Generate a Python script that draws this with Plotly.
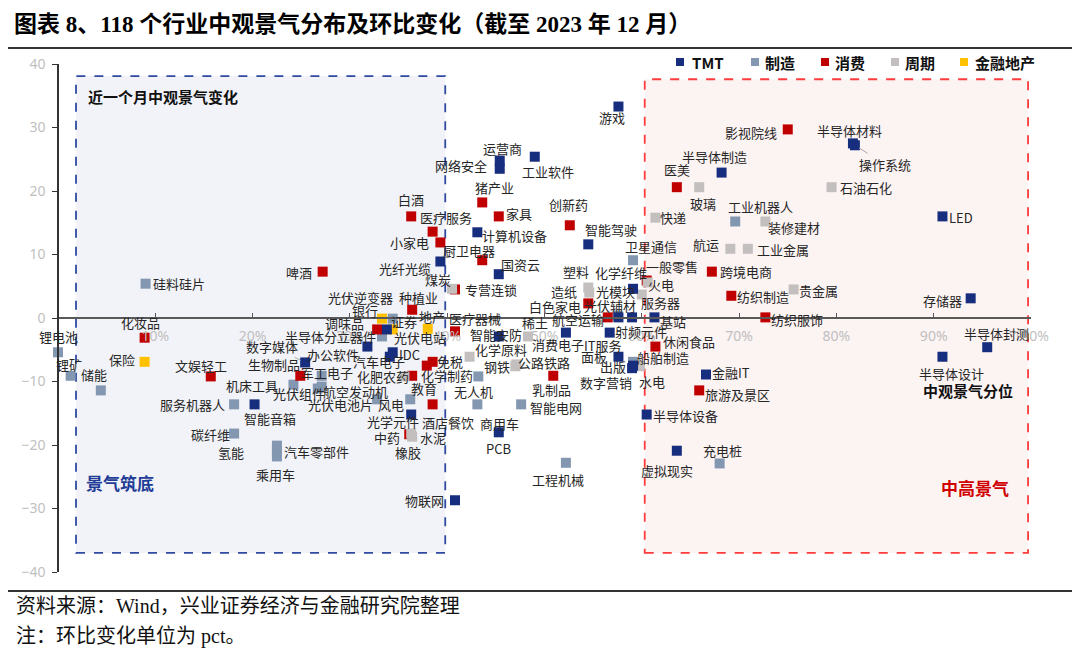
import plotly.graph_objects as go

# ---------------- data ----------------
CATEGORIES = ["TMT", "制造", "消费", "周期", "金融地产"]

TMT_NAMES = ["游戏", "运营商", "网络安全", "工业软件", "半导体材料", "操作系统", "半导体制造", "LED",
             "存储器", "半导体封测", "半导体设计", "金融IT", "半导体设备", "虚拟现实", "物联网", "PCB",
             "光学元件", "智能音箱", "数字媒体", "办公软件", "IDC", "汽车电子", "半导体分立器件", "光纤光缆",
             "计算机设备", "国资云", "智能驾驶", "智能安防", "消费电子", "光模块", "服务器", "基站",
             "射频元件", "IT服务", "面板", "出版", "数字营销"]
TMT_X = [57.6, 45.4, 45.4, 49.0, 81.7, 81.9, 68.2, 90.9,
         93.8, 95.5, 90.9, 66.6, 60.5, 63.6, 40.8, 45.3,
         36.3, 20.2, 25.4, 31.8, 34.4, 34.1, 33.8, 39.3,
         43.1, 45.3, 54.5, 45.3, 52.2, 59.1, 59.0, 61.3,
         57.6, 56.7, 57.6, 59.1, 59.0]
TMT_Y = [33.3, 24.8, 23.5, 25.4, 27.5, 27.2, 22.9, 16.0,
         3.1, -4.6, -6.1, -8.9, -15.2, -20.9, -28.7, -18.0,
         -15.2, -13.6, -7.0, -4.5, -5.4, -6.1, -1.8, 8.9,
         13.5, 6.9, 11.6, -2.9, -2.3, 4.6, 0.1, 0.1,
         0.1, -2.3, -6.1, -7.5, -7.9]

MFG_NAMES = ["工业机器人", "卫星通信", "工程机械", "充电桩", "商用车", "智能电网", "风电", "光伏电池片",
             "碳纤维", "氢能", "汽车零部件", "乘用车", "服务机器人", "锂电池", "锂矿", "储能",
             "硅料硅片", "机床工具", "军工电子", "航空发动机", "光伏组件", "光伏逆变器", "光伏电站", "无人机",
             "船舶制造", "光伏辅材"]
MFG_X = [69.6, 59.1, 52.2, 68.0, 43.1, 47.6, 36.2, 32.8,
         18.1, 22.5, 22.5, 22.5, 18.1, 0.0, 1.3, 4.4,
         9.0, 24.2, 27.1, 27.1, 26.7, 34.4, 33.3, 43.2,
         59.1, 57.5]
MFG_Y = [15.2, 9.1, -22.8, -22.9, -13.6, -13.6, -12.8, -12.8,
         -18.2, -20.1, -20.9, -21.8, -13.6, -5.4, -9.1, -11.4,
         5.4, -10.5, -9.1, -10.8, -11.1, -0.1, -2.9, -9.2,
         -6.9, 0.4]

CONS_NAMES = ["影视院线", "医美", "跨境电商", "一般零售", "纺织制造", "纺织服饰", "旅游及景区", "酒店餐饮",
              "化妆品", "文娱轻工", "生物制品", "啤酒", "白酒", "医疗服务", "小家电", "种植业",
              "调味品", "教育", "免税", "化学制药", "专营连锁", "厨卫电器", "创新药", "家具",
              "猪产业", "白色家电", "医疗器械", "乳制品", "休闲食品", "中药", "航空运输"]
CONS_X = [75.0, 63.6, 67.2, 60.5, 69.2, 72.7, 65.9, 38.5,
          8.9, 15.7, 24.9, 27.2, 36.3, 38.5, 39.3, 36.4,
          32.8, 36.4, 38.5, 37.9, 40.8, 43.6, 52.6, 45.3,
          43.6, 54.5, 40.8, 50.9, 61.4, 36.1, 56.5]
CONS_Y = [29.7, 20.6, 7.3, 5.9, 3.5, 0.1, -11.4, -13.6,
          -3.1, -9.2, -9.1, 7.3, 16.0, 13.6, 11.9, 1.3,
          -1.8, -9.1, -6.9, -7.5, 4.5, 9.1, 14.6, 16.0,
          18.2, 2.3, -2.1, -9.1, -4.5, -18.3, 0.1]

CYC_NAMES = ["玻璃", "快递", "石油石化", "装修建材", "航运", "工业金属", "贵金属", "火电",
             "水泥", "橡胶", "煤炭", "塑料", "造纸", "化学纤维", "化肥农药", "化学原料",
             "钢铁", "公路铁路", "稀土", "水电"]
CYC_X = [65.9, 61.4, 79.5, 72.7, 69.1, 70.9, 75.6, 60.6,
         36.3, 36.4, 40.5, 54.5, 54.6, 60.0, 35.6, 42.3,
         47.0, 47.1, 48.3, 59.8]
CYC_Y = [20.6, 15.8, 20.6, 15.2, 10.9, 10.9, 4.5, 5.6,
         -18.2, -18.7, 4.6, 4.8, 4.0, 3.7, -9.2, -6.1,
         -7.6, -7.3, -2.9, -7.6]

FIN_NAMES = ["保险", "银行", "证券", "地产"]
FIN_X = [8.9, 33.3, 34.4, 38.0]
FIN_Y = [-6.9, -0.1, -1.8, -1.7]

X_TICKS = [10, 20, 30, 40, 50, 60, 70, 80, 90, 100]
X_TICK_TEXT = ["10%", "20%", "30%", "40%", "50%", "60%", "70%", "80%", "90%", "100%"]
Y_TICKS = [-40, -30, -20, -10, 0, 10, 20, 30, 40]

# ---------------- styling / label placement ----------------
COLORS = {"TMT": "#172d7d", "制造": "#8497b0", "消费": "#c00000", "周期": "#c3bfbf", "金融地产": "#ffc000"}

# The page body has an 8px default margin, so the figure is sized to fill the rest of the window.
PAGE_PAD = 8
W, H = 1080 - PAGE_PAD, 653 - PAGE_PAD
ML, MT = 58 - PAGE_PAD, 64 - PAGE_PAD
PW, PH = 973, 508
MR, MB = W - ML - PW, H - MT - PH


def px_to_paper(px, py):
    """window pixel -> paper coordinates"""
    fx, fy = px - PAGE_PAD, py - PAGE_PAD
    return (fx - ML) / PW, (H - MB - fy) / PH


# label centre offset from its point, in screen pixels (dx right, dy down)
LABEL_OFFSET = {
    "游戏": (-6, 11), "运营商": (3, -12), "网络安全": (-39, -3), "工业软件": (13, 15),
    "半导体材料": (-3, -13), "操作系统": (30, 19), "半导体制造": (-7, -16), "LED": (19, 1),
    "存储器": (-28, 2), "半导体封测": (9, -14), "半导体设计": (9, 17), "金融IT": (25, -2),
    "半导体设备": (39, 1), "虚拟现实": (-10, 20), "物联网": (-30, 0), "PCB": (0, 16),
    "光学元件": (-18, 7), "智能音箱": (15, 14), "数字媒体": (-33, -16), "办公软件": (-34, 8),
    "IDC": (17, 2), "汽车电子": (-11, 5), "半导体分立器件": (-56, 7), "光纤光缆": (-35, 7),
    "计算机设备": (37, 3), "国资云": (22, -10), "智能驾驶": (23, -15), "智能安防": (-3, -2),
    "消费电子": (-8, 12), "光模块": (-18, 3), "服务器": (28, -15), "基站": (19, 4),
    "射频元件": (23, 14), "IT服务": (-7, 13), "面板": (-24, 0), "出版": (-20, 1), "数字营销": (-26, 14),
    "工业机器人": (25, -15), "卫星通信": (18, -14), "工程机械": (-8, 17), "充电桩": (3, -13),
    "商用车": (22, 19), "智能电网": (35, 3), "风电": (-19, 5), "光伏电池片": (-37, 5),
    "碳纤维": (-24, 1), "氢能": (-46, 7), "汽车零部件": (40, 1), "乘用车": (-1, 18),
    "服务机器人": (-42, 0), "锂电池": (0, -16), "锂矿": (-2, -11), "储能": (-7, -16),
    "硅料硅片": (33, 0), "机床工具": (-41, 1), "军工电子": (5, -3), "航空发动机": (34, 5),
    "光伏组件": (-19, 5), "光伏逆变器": (-32, -21), "光伏电站": (38, 1), "无人机": (-5, 15),
    "船舶制造": (30, -4), "光伏辅材": (-7, -10),
    "影视院线": (-37, 3), "医美": (0, -18), "跨境电商": (34, 0), "一般零售": (25, -14),
    "纺织制造": (32, 1), "纺织服饰": (32, 2), "旅游及景区": (38, 4), "酒店餐饮": (15, 18),
    "化妆品": (-4, -15), "文娱轻工": (-10, -11), "生物制品": (-26, -11), "啤酒": (-24, 1),
    "白酒": (0, -17), "医疗服务": (13, -14), "小家电": (-31, 0), "种植业": (6, -12),
    "调味品": (-33, -6), "教育": (12, 13), "免税": (17, 0), "化学制药": (20, 10),
    "专营连锁": (36, 0), "厨卫电器": (-13, -10), "创新药": (-1, -21), "家具": (20, -3),
    "猪产业": (12, -15), "白色家电": (-33, 3), "医疗器械": (20, -13), "乳制品": (-2, 14),
    "休闲食品": (34, -5), "中药": (-22, 3), "航空运输": (-30, 2),
    "玻璃": (4, 16), "快递": (18, 0), "石油石化": (34, 0), "装修建材": (29, 6),
    "航运": (-24, -4), "工业金属": (35, 1), "贵金属": (25, 1), "火电": (13, 2),
    "水泥": (22, 4), "橡胶": (-4, 16), "煤炭": (-14, -9), "塑料": (-12, -16),
    "造纸": (-25, -1), "化学纤维": (-21, -22), "化肥农药": (-21, 0), "化学原料": (31, -7),
    "钢铁": (-18, 0), "公路铁路": (28, -2), "稀土": (7, -14), "水电": (12, 15),
    "保险": (-23, -2), "银行": (-17, -8), "证券": (11, -8), "地产": (4, -12),
}
LEADERS = {"操作系统", "数字媒体"}

LABEL_FONT = dict(family="Noto Sans CJK SC", size=13, color="#262626")

SERIES = [
    ("制造", MFG_NAMES, MFG_X, MFG_Y),
    ("消费", CONS_NAMES, CONS_X, CONS_Y),
    ("周期", CYC_NAMES, CYC_X, CYC_Y),
    ("金融地产", FIN_NAMES, FIN_X, FIN_Y),
    ("TMT", TMT_NAMES, TMT_X, TMT_Y),
]

fig = go.Figure()
annotations = []
for cat, names, xs, ys in SERIES:
    fig.add_trace(go.Scatter(
        x=xs, y=ys, mode="markers", name=cat, text=names, showlegend=False,
        marker=dict(symbol="square", size=10, color=COLORS[cat], line=dict(width=0)),
        cliponaxis=False,
        hovertemplate="%{text}<br>%{x:.1f}%<br>%{y:.1f}<extra></extra>",
    ))
    for n, xv, yv in zip(names, xs, ys):
        dx, dy = LABEL_OFFSET.get(n, (0, -14))
        if n in LEADERS:
            annotations.append(dict(x=xv, y=yv, xref="x", yref="y", text=n, showarrow=True,
                                    ax=dx, ay=dy, arrowhead=0, arrowwidth=1, arrowcolor="#a6a6a6",
                                    standoff=5, font=LABEL_FONT))
        else:
            annotations.append(dict(x=xv, y=yv, xref="x", yref="y", text=n, showarrow=False,
                                    xshift=dx, yshift=-dy, xanchor="center", yanchor="middle",
                                    font=LABEL_FONT))

shapes = []

# hand-placed legend (square + bold label), positions in window pixels
LEGEND_POS = {"TMT": (680, 690), "制造": (755, 763), "消费": (825, 833), "周期": (895, 903), "金融地产": (964, 973)}
LEGEND_Y = 62
for cat in CATEGORIES:
    sq_x, tx = LEGEND_POS[cat]
    x0, y0 = px_to_paper(sq_x - 4, LEGEND_Y + 4)
    x1, y1 = px_to_paper(sq_x + 4, LEGEND_Y - 4)
    shapes.append(dict(type="rect", xref="paper", yref="paper", x0=x0, x1=x1, y0=y0, y1=y1,
                       fillcolor=COLORS[cat], line=dict(width=0)))
    lx, ly = px_to_paper(tx, LEGEND_Y)
    annotations.append(dict(x=lx, y=ly, xref="paper", yref="paper", text=f"<b>{cat}</b>", showarrow=False,
                            xanchor="left", yanchor="middle",
                            font=dict(family="Noto Sans CJK SC", size=15, color="#111111")))

# region texts and page texts
tx_, ty_ = px_to_paper(12, 8.5)
f1x, f1y = px_to_paper(14, 606)
f2x, f2y = px_to_paper(14, 636)
annotations += [
    dict(x=2.9, y=34.9, xref="x", yref="y", text="<b>近一个月中观景气变化</b>", showarrow=False,
         xanchor="left", yanchor="middle", font=dict(family="Noto Sans CJK SC", size=15, color="#111111")),
    dict(x=2.7, y=-25.9, xref="x", yref="y", text="<b>景气筑底</b>", showarrow=False,
         xanchor="left", yanchor="middle", font=dict(family="Noto Sans CJK SC", size=17, color="#1f3c96")),
    dict(x=94.2, y=-26.7, xref="x", yref="y", text="<b>中高景气</b>", showarrow=False,
         xanchor="center", yanchor="middle", font=dict(family="Noto Sans CJK SC", size=17, color="#d10000")),
    dict(x=93.5, y=-11.4, xref="x", yref="y", text="<b>中观景气分位</b>", showarrow=False,
         xanchor="center", yanchor="middle", font=dict(family="Noto Sans CJK SC", size=15, color="#111111")),
    dict(x=tx_, y=ty_, xref="paper", yref="paper",
         text="<b>图表 8、118 个行业中观景气分布及环比变化（截至 2023 年 12 月）</b>", showarrow=False,
         xanchor="left", yanchor="top",
         font=dict(family="Liberation Serif, Noto Sans CJK SC", size=23, color="#000000")),
    dict(x=f1x, y=f1y, xref="paper", yref="paper",
         text="资料来源：Wind，兴业证券经济与金融研究院整理", showarrow=False,
         xanchor="left", yanchor="middle",
         font=dict(family="Liberation Serif, Noto Sans CJK SC", size=20, color="#111111")),
    dict(x=f2x, y=f2y, xref="paper", yref="paper",
         text="注：环比变化单位为 pct。", showarrow=False,
         xanchor="left", yanchor="middle",
         font=dict(family="Liberation Serif, Noto Sans CJK SC", size=20, color="#111111")),
]

lx0, ly_top = px_to_paper(0, 48)
lx1, ly_bot = px_to_paper(1080, 591)
shapes += [
    dict(type="rect", xref="x", yref="y", x0=1.85, x1=39.8, y0=-37.0, y1=38.1,
         fillcolor="#f2f3f8", line=dict(color="#2f4aa0", width=1.8, dash="dash"), layer="below"),
    dict(type="rect", xref="x", yref="y", x0=60.3, x1=99.7, y0=-37.0, y1=37.6,
         fillcolor="#fcf3f3", line=dict(color="#ff3b3b", width=1.8, dash="dash"), layer="below"),
    dict(type="line", xref="paper", yref="paper", x0=lx0, x1=lx1, y0=ly_top, y1=ly_top,
         line=dict(color="#333333", width=2)),
    dict(type="line", xref="paper", yref="paper", x0=lx0, x1=lx1, y0=ly_bot, y1=ly_bot,
         line=dict(color="#333333", width=2)),
]

fig.update_layout(
    width=W, height=H,
    margin=dict(l=ML, r=MR, t=MT, b=MB, autoexpand=False),
    paper_bgcolor="white", plot_bgcolor="rgba(0,0,0,0)",
    showlegend=False,
    xaxis=dict(range=[0, 100], tickvals=X_TICKS, ticktext=X_TICK_TEXT, showgrid=False, zeroline=False,
               anchor="free", position=0.5, showline=True, linecolor="#595959", linewidth=1.5,
               ticks="inside", ticklen=4, tickcolor="#595959", ticklabelstandoff=5,
               tickfont=dict(family="Noto Sans", size=14, color="#bfbfbf")),
    yaxis=dict(range=[-40, 40], tickvals=Y_TICKS, showgrid=False, zeroline=False,
               anchor="free", position=0, showline=True, linecolor="#333333", linewidth=1.5,
               ticks="outside", ticklen=5, tickcolor="#333333", ticklabelstandoff=4,
               tickfont=dict(family="Noto Sans", size=14, color="#bfbfbf")),
    annotations=annotations,
    shapes=shapes,
)

fig.write_html("out.html")
